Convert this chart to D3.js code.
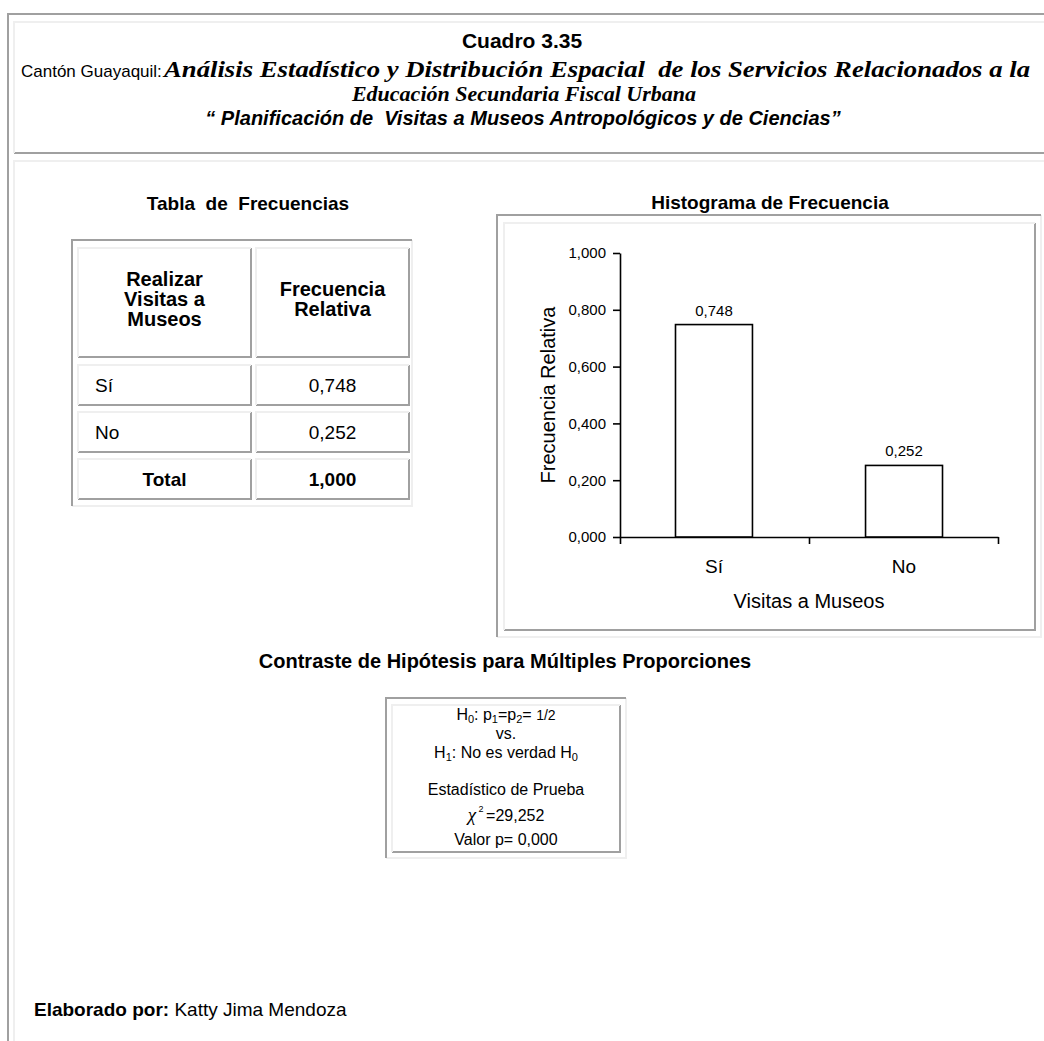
<!DOCTYPE html>
<html><head><meta charset="utf-8">
<script src="https://cdn.jsdelivr.net/npm/d3@7"></script>
<style>
html,body{margin:0;padding:0;background:#fff;}
svg{display:block;}
text{font-family:"Liberation Sans",Arial,sans-serif;fill:#000;}
</style></head>
<body>
<svg id="c" width="1044" height="1041"></svg>
<script>
// ---- data ----
const categories = ["Sí", "No"];
const values = [0.748, 0.252];
const yTickValues = [0, 0.2, 0.4, 0.6, 0.8, 1.0];
const tableHeader = [["Realizar", "Visitas a", "Museos"], ["Frecuencia", "Relativa"]];
const tableLabels = ["Sí", "No"];
const tableTotal = ["Total", 1.0];
const hypothesisLines = ["Estadístico de Prueba", "Valor p= 0,000"];
const chiValue = "=29,252";

const loc = d3.formatLocale({decimal: ",", thousands: ".", grouping: [3], currency: ["$", ""]});
const fmt = loc.format(".3f");

const svg = d3.select("#c");
const DARK = "#a0a0a0", LIGHT = "#efefef";

function bevel(x, y, w, h, tl, br, sw) {
  const g = svg.append("g").attr("fill", "none").attr("stroke-width", sw);
  g.append("path").attr("stroke", br).attr("d", `M${x + w},${y}V${y + h}H${x}`);
  g.append("path").attr("stroke", tl).attr("d", `M${x},${y + h}V${y}H${x + w}`);
}

// ---- page frame ----
bevel(8, 14, 1100, 1100, DARK, LIGHT, 2);
bevel(14, 22, 1100, 131, LIGHT, DARK, 2);
bevel(14, 161, 1100, 1000, LIGHT, DARK, 2);

// ---- header ----
svg.append("text").attr("x", 522).attr("y", 48).attr("text-anchor", "middle")
  .style("font-size", "21px").style("font-weight", "bold").text("Cuadro 3.35");
svg.append("text").attr("x", 21).attr("y", 77).style("font-size", "17px").text("Cantón Guayaquil: ");
svg.append("text").attr("x", 164).attr("y", 77)
  .style("font-family", "'Liberation Serif',serif").style("font-style", "italic")
  .style("font-weight", "bold").style("font-size", "23px").attr("xml:space", "preserve")
  .attr("textLength", 866).attr("lengthAdjust", "spacingAndGlyphs")
  .text("Análisis Estadístico y Distribución Espacial  de los Servicios Relacionados a la");
svg.append("text").attr("x", 524).attr("y", 101).attr("text-anchor", "middle")
  .style("font-family", "'Liberation Serif',serif").style("font-style", "italic").style("font-weight", "bold")
  .style("font-size", "22px").text("Educación Secundaria Fiscal Urbana");
svg.append("text").attr("x", 523).attr("y", 125).attr("text-anchor", "middle")
  .style("font-size", "20px").style("font-style", "italic").style("font-weight", "bold")
  .attr("xml:space", "preserve")
  .text("“ Planificación de  Visitas a Museos Antropológicos y de Ciencias”");

// ---- table ----
svg.append("text").attr("x", 248).attr("y", 210).attr("text-anchor", "middle")
  .style("font-size", "19px").style("font-weight", "bold").attr("xml:space", "preserve")
  .text("Tabla  de  Frecuencias");
bevel(72, 240, 340, 266, DARK, LIGHT, 2);
const cols = [{x: 78, w: 173}, {x: 256, w: 153}];
const rowsY = [{y: 248, h: 109}, {y: 365, h: 40}, {y: 412, h: 40}, {y: 459, h: 40}];
rowsY.forEach(r => cols.forEach(c => bevel(c.x, r.y, c.w, r.h, LIGHT, DARK, 2)));
tableHeader.forEach((lines, ci) => {
  const cx = cols[ci].x + cols[ci].w / 2;
  const n = lines.length, lh = 20;
  const cy = rowsY[0].y + rowsY[0].h / 2;
  lines.forEach((t, i) => {
    svg.append("text").attr("x", cx).attr("y", cy + (i - (n - 1) / 2) * lh + 3)
      .attr("text-anchor", "middle").style("font-size", "20px").style("font-weight", "bold").text(t);
  });
});
tableLabels.forEach((lab, i) => {
  const r = rowsY[i + 1];
  svg.append("text").attr("x", 95).attr("y", r.y + r.h / 2 + 7).style("font-size", "19px").text(lab);
  svg.append("text").attr("x", cols[1].x + cols[1].w / 2).attr("y", r.y + r.h / 2 + 7)
    .attr("text-anchor", "middle").style("font-size", "19px").text(fmt(values[i]));
});
{
  const r = rowsY[3];
  svg.append("text").attr("x", cols[0].x + cols[0].w / 2).attr("y", r.y + r.h / 2 + 7)
    .attr("text-anchor", "middle").style("font-size", "19px").style("font-weight", "bold").text(tableTotal[0]);
  svg.append("text").attr("x", cols[1].x + cols[1].w / 2).attr("y", r.y + r.h / 2 + 7)
    .attr("text-anchor", "middle").style("font-size", "19px").style("font-weight", "bold").text(fmt(tableTotal[1]));
}

// ---- histogram ----
svg.append("text").attr("x", 770).attr("y", 209).attr("text-anchor", "middle")
  .style("font-size", "19px").style("font-weight", "bold").text("Histograma de Frecuencia");
bevel(497, 215, 544, 422, DARK, LIGHT, 2);
bevel(504, 223, 531, 407, LIGHT, DARK, 2);

const x0 = 620, x1 = 998, yTop = 253, yBot = 537;
const x = d3.scaleBand().domain(categories).range([x0, x1]).paddingInner(0.595).paddingOuter(0.292);
const y = d3.scaleLinear().domain([0, 1]).range([yBot, yTop]);
const xb = d3.scaleLinear().domain([0, categories.length]).range([x0, x1]);

const yAxis = svg.append("g").attr("transform", `translate(${x0},0)`)
  .call(d3.axisLeft(y).tickValues(yTickValues).tickSize(7).tickPadding(7).tickSizeOuter(0).tickFormat(fmt));
yAxis.selectAll("text").style("font-size", "15px").style("font-family", "'Liberation Sans',Arial,sans-serif");
const xAxis = svg.append("g").attr("transform", `translate(0,${yBot})`)
  .call(d3.axisBottom(xb).tickValues(d3.range(categories.length + 1)).tickSize(7).tickSizeOuter(0).tickFormat(""));
[yAxis, xAxis].forEach(a => {
  a.selectAll("path,line").attr("stroke", "#000").attr("stroke-width", 1.6);
});

svg.append("g").selectAll("rect").data(values).join("rect")
  .attr("x", (d, i) => x(categories[i])).attr("width", x.bandwidth())
  .attr("y", d => y(d)).attr("height", d => yBot - y(d))
  .attr("fill", "#fff").attr("stroke", "#000").attr("stroke-width", 1.6);
svg.append("g").selectAll("text").data(values).join("text")
  .attr("x", (d, i) => x(categories[i]) + x.bandwidth() / 2).attr("y", d => y(d) - 9)
  .attr("text-anchor", "middle").style("font-size", "15px").text(d => fmt(d));
svg.append("g").selectAll("text").data(categories).join("text")
  .attr("x", d => x(d) + x.bandwidth() / 2).attr("y", yBot + 36)
  .attr("text-anchor", "middle").style("font-size", "19px").text(d => d);
svg.append("text").attr("x", (x0 + x1) / 2).attr("y", 608).attr("text-anchor", "middle")
  .style("font-size", "20px").text("Visitas a Museos");
svg.append("text").attr("transform", `translate(555,${(yTop + yBot) / 2}) rotate(-90)`)
  .attr("text-anchor", "middle").style("font-size", "20px").text("Frecuencia Relativa");

// ---- hypothesis ----
svg.append("text").attr("x", 505).attr("y", 668).attr("text-anchor", "middle")
  .style("font-size", "20px").style("font-weight", "bold").text("Contraste de Hipótesis para Múltiples Proporciones");
bevel(386, 698, 240, 160, DARK, LIGHT, 2);
bevel(392, 705, 228, 147, LIGHT, DARK, 2);
const hc = 506;
const h0 = svg.append("text").attr("x", hc).attr("y", 720).attr("text-anchor", "middle").style("font-size", "16px");
h0.append("tspan").text("H");
h0.append("tspan").attr("dy", 3).style("font-size", "11px").text("0");
h0.append("tspan").attr("dy", -3).text(": p");
h0.append("tspan").attr("dy", 3).style("font-size", "11px").text("1");
h0.append("tspan").attr("dy", -3).text("=p");
h0.append("tspan").attr("dy", 3).style("font-size", "11px").text("2");
h0.append("tspan").attr("dy", -3).text("= ");
h0.append("tspan").style("font-size", "14px").text("1/2");
svg.append("text").attr("x", hc).attr("y", 739).attr("text-anchor", "middle").style("font-size", "16px").text("vs.");
const h1 = svg.append("text").attr("x", hc).attr("y", 758).attr("text-anchor", "middle").style("font-size", "16px");
h1.append("tspan").text("H");
h1.append("tspan").attr("dy", 3).style("font-size", "11px").text("1");
h1.append("tspan").attr("dy", -3).text(": No es verdad H");
h1.append("tspan").attr("dy", 3).style("font-size", "11px").text("0");
svg.append("text").attr("x", hc).attr("y", 795).attr("text-anchor", "middle").style("font-size", "16px").text(hypothesisLines[0]);
const chi = svg.append("text").attr("x", hc).attr("y", 821).attr("text-anchor", "middle").style("font-size", "16px");
chi.append("tspan").style("font-family", "'Liberation Serif',serif").style("font-style", "italic").style("font-size", "19px").text("χ");
chi.append("tspan").attr("dy", -9).style("font-size", "9px").text(" 2 ");
chi.append("tspan").attr("dy", 9).text(chiValue);
svg.append("text").attr("x", hc).attr("y", 845).attr("text-anchor", "middle").style("font-size", "16px").text(hypothesisLines[1]);

// ---- footer ----
const ft = svg.append("text").attr("x", 34).attr("y", 1016).style("font-size", "19px");
ft.append("tspan").style("font-weight", "bold").text("Elaborado por:");
ft.append("tspan").text(" Katty Jima Mendoza");
</script>
</body></html>
